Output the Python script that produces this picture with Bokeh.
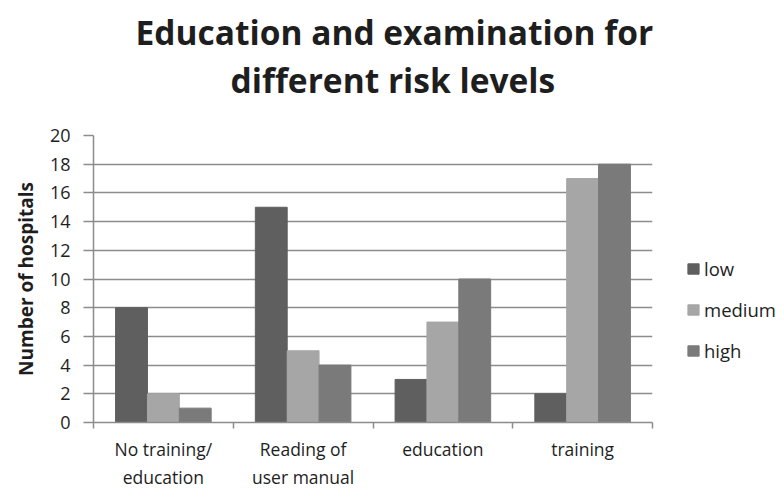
from bokeh.plotting import figure
from bokeh.models import FixedTicker, Legend, LegendItem, ColumnDataSource, Range1d, Title
from bokeh.transform import dodge
from bokeh.embed import file_html
from bokeh.resources import INLINE

# Data
categories = ["No training/\neducation", "Reading of\nuser manual", "education", "training"]
low = [8, 15, 3, 2]
medium = [2, 5, 7, 17]
high = [1, 4, 10, 18]
series_names = ["low", "medium", "high"]
series_colors = ["#5f5f5f", "#a6a6a6", "#7a7a7a"]
y_ticks = [0, 2, 4, 6, 8, 10, 12, 14, 16, 18, 20]
title_lines = ["Education and examination for", "different risk levels"]

FONT = "Open Sans"
TEXT = "#1e1e1e"
GRID = "#8c8c8c"

centers = [i + 0.5 for i in range(len(categories))]
source = ColumnDataSource(dict(x=centers, low=low, medium=medium, high=high))

p = figure(frame_width=559, frame_height=287,
           x_range=Range1d(0, len(categories)), y_range=Range1d(0, 20),
           output_backend="svg", toolbar_location=None,
           min_border_left=93, min_border_right=132, min_border_top=135, min_border_bottom=66)
p.outline_line_color = None

bar_w = 0.228
offsets = [-bar_w, 0.0, bar_w]
renderers = []
for name, col, off in zip(series_names, series_colors, offsets):
    r = p.vbar(x=dodge("x", off, range=p.x_range), top=name, width=bar_w, source=source,
               fill_color=col, line_color=col)
    renderers.append(r)

p.xgrid.grid_line_color = None
p.ygrid.grid_line_color = GRID
p.ygrid.grid_line_width = 1.5

xa = p.xaxis[0]
xa.ticker = FixedTicker(ticks=centers, minor_ticks=list(range(len(categories) + 1)))
xa.major_label_overrides = {c: lab for c, lab in zip(centers, categories)}
xa.major_tick_out = 0
xa.major_tick_in = 0
xa.minor_tick_out = 6
xa.minor_tick_in = 0
xa.minor_tick_line_color = GRID
xa.minor_tick_line_width = 1.5
xa.axis_line_color = GRID
xa.axis_line_width = 1.5
xa.major_label_text_font = FONT
xa.major_label_text_font_size = "17.5px"
xa.major_label_text_color = TEXT
xa.major_label_standoff = 8

ya = p.yaxis[0]
ya.ticker = FixedTicker(ticks=y_ticks, minor_ticks=[])
ya.major_tick_out = 10
ya.major_tick_in = 0
ya.major_tick_line_color = GRID
ya.major_tick_line_width = 1.5
ya.axis_line_color = GRID
ya.axis_line_width = 1.5
ya.major_label_text_font = FONT
ya.major_label_text_font_size = "18px"
ya.major_label_text_color = TEXT
ya.major_label_standoff = 13
ya.axis_label = "Number of hospitals"
ya.axis_label_text_font = FONT
ya.axis_label_text_font_size = "19px"
ya.axis_label_text_font_style = "bold"
ya.axis_label_text_color = TEXT
ya.axis_label_standoff = 8

legend = Legend(items=[LegendItem(label=n, renderers=[r]) for n, r in zip(series_names, renderers)],
                location=(34, 59), orientation="vertical",
                border_line_color=None, background_fill_alpha=0,
                label_text_font=FONT, label_text_font_size="18.5px", label_text_color=TEXT,
                glyph_width=14, glyph_height=13, label_standoff=4,
                spacing=16, padding=0, margin=0)
p.add_layout(legend, "right")

# Two-line title stacked above the frame (nearest first), with a blank spacer line;
# each line is left-aligned with an offset that centres it on the page
p.add_layout(Title(text=" ", text_font_size="28px", standoff=0), "above")
title_offsets = [42, 137]
for line, off in reversed(list(zip(title_lines, title_offsets))):
    p.add_layout(Title(text=line, align="left", offset=off, standoff=0,
                       text_font=FONT, text_font_size="33.5px", text_font_style="bold",
                       text_color=TEXT), "above")

open("out.html", "w").write(file_html(p, INLINE))
